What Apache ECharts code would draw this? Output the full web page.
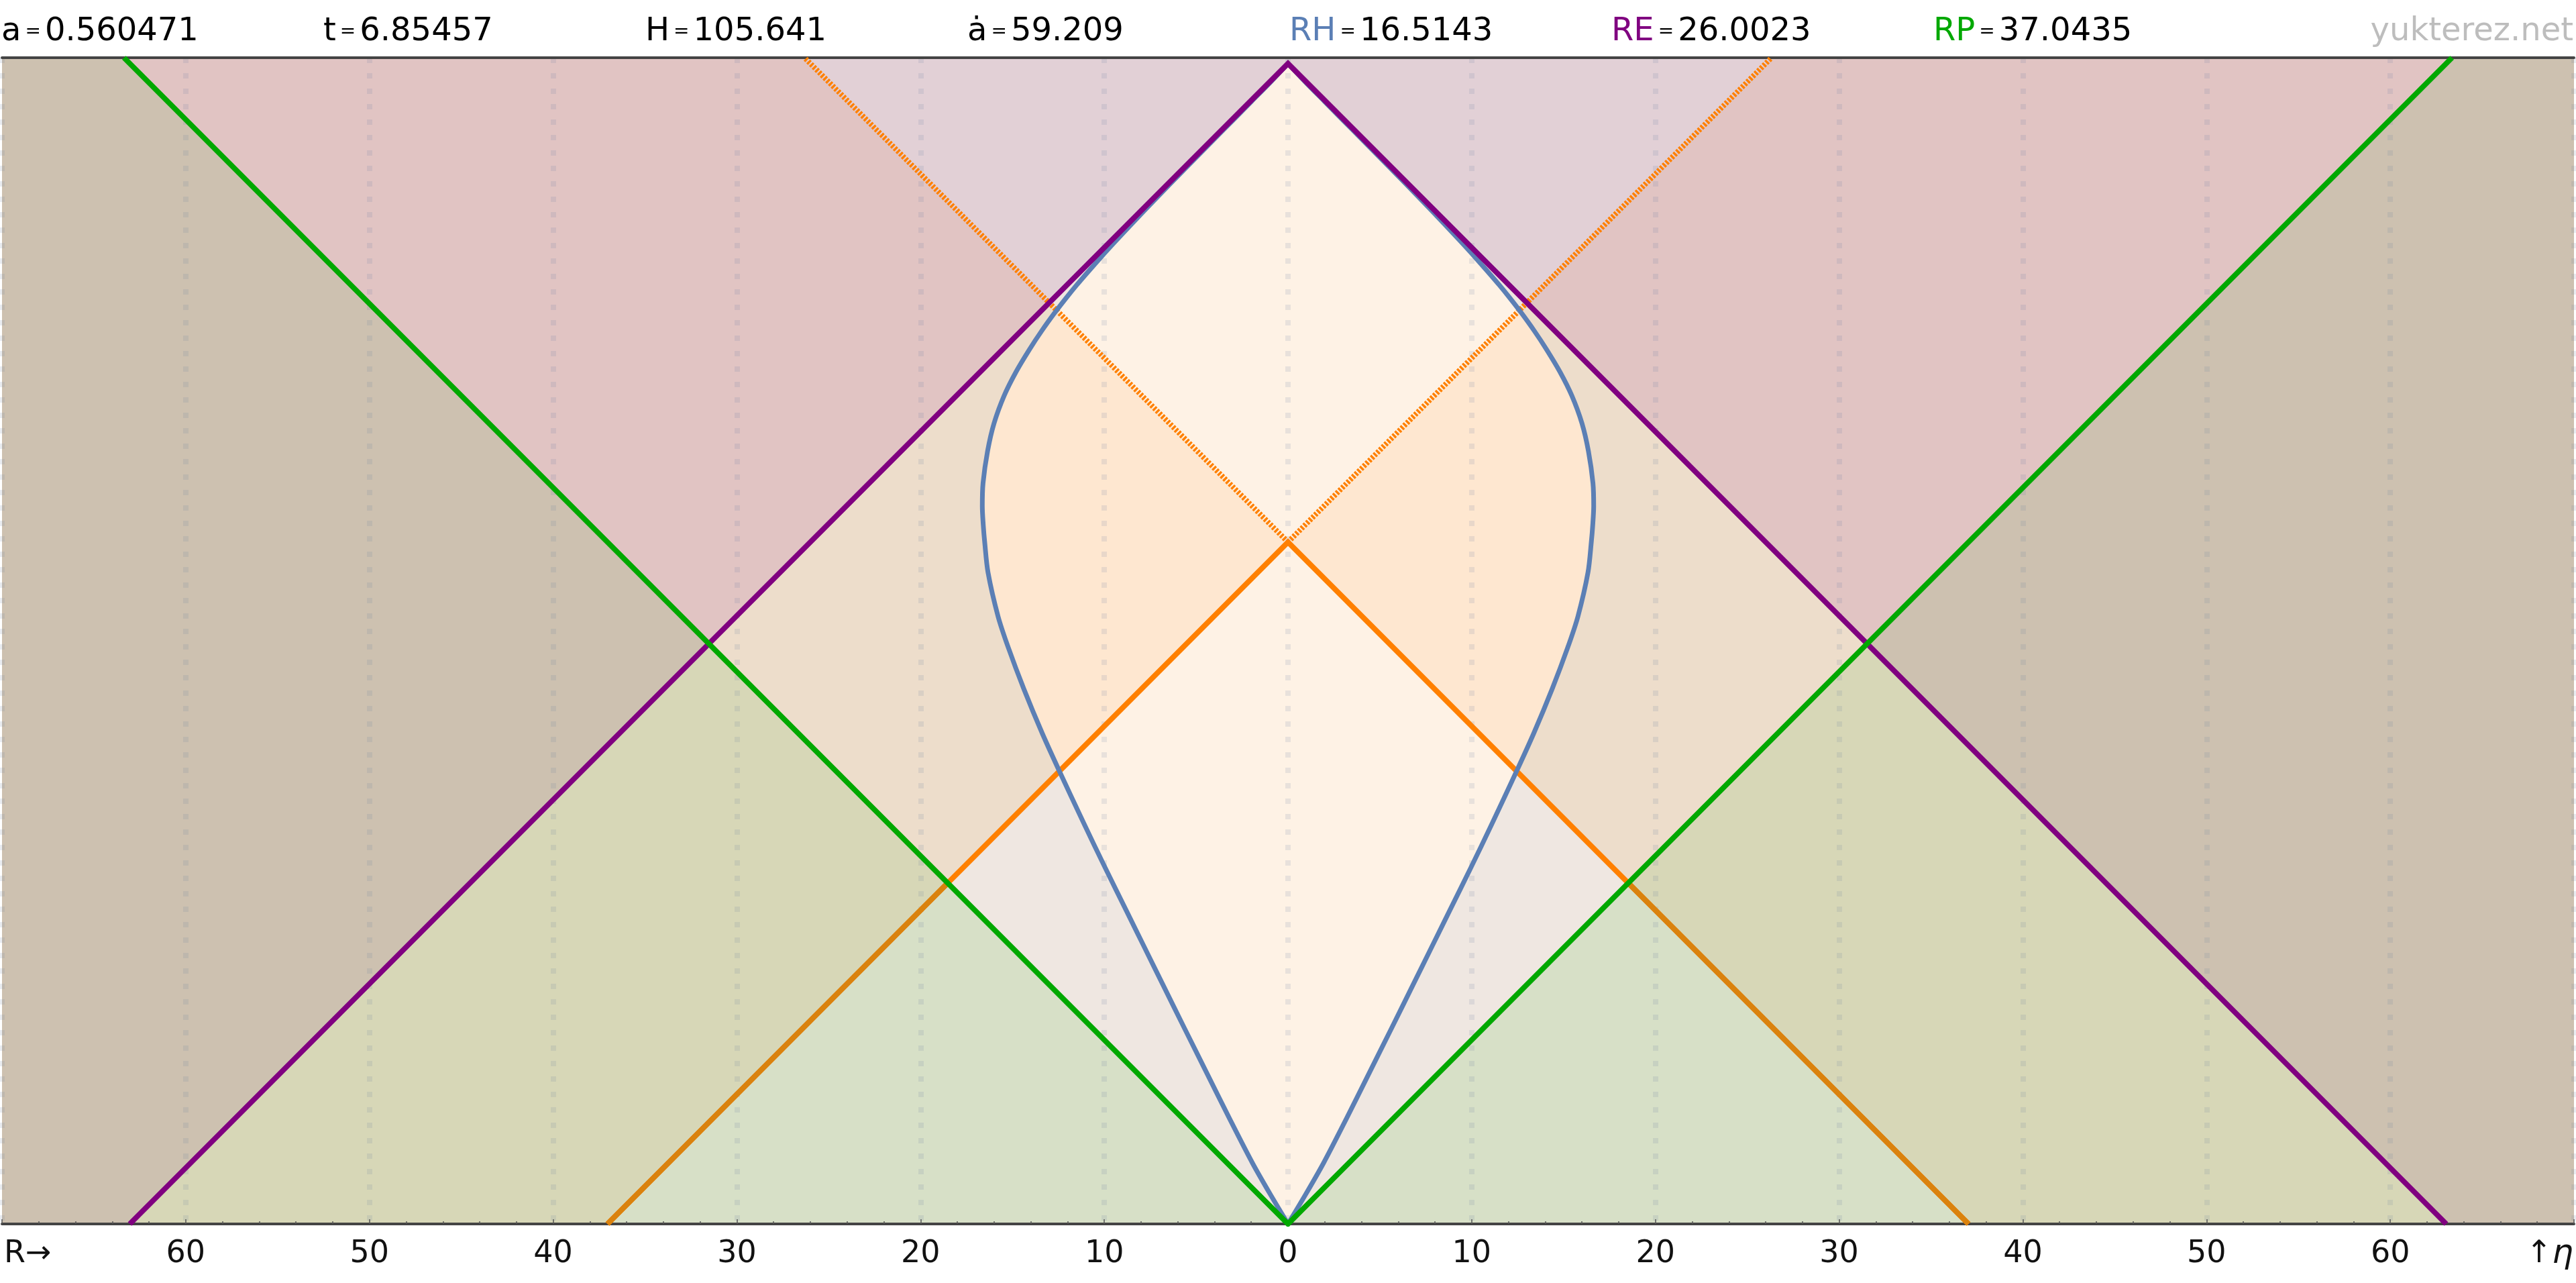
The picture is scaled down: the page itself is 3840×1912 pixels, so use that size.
<!DOCTYPE html>
<html>
<head>
<meta charset="utf-8">
<script src="https://cdn.jsdelivr.net/npm/echarts@6/dist/echarts.min.js"></script>
<style>
html,body{margin:0;padding:0;background:#ffffff;}
#c{width:3840px;height:1912px;}
</style>
</head>
<body>
<div id="c"></div>
<script>
// ---------------- data ----------------
const xMin = -70, xMax = 70, xInterval = 10;
const etaTop = 63.36;                 // top of the plotted conformal-time window
const etaNow = 37.0435;               // RP (present conformal time / particle horizon)
const eventHorizonNow = 26.0023;      // RE
const etaEnd = 63.0458;               // etaNow + RE (end of conformal time)

// header readouts
const headerLabels = ['a', 't', 'H', 'ȧ', 'RH', 'RE', 'RP'];
const headerValues = ['0.560471', '6.85457', '105.641', '59.209', '16.5143', '26.0023', '37.0435'];
const headerColors = ['#000000', '#000000', '#000000', '#000000', '#5b7fb5', '#800080', '#00a800'];

// Hubble sphere (comoving), right branch: conformal time eta and radius R
const hubbleEta = [0, 1.5, 3.3, 5.7, 8.2, 10.6, 13.0, 15.1, 16.9, 19.35, 21.8, 24.57, 26.64, 29.07, 31.3, 33.0, 35.4, 37.04, 38.0, 39.0,
                   40.24, 42.0, 43.5, 45.0, 46.3, 47.5, 48.5, 49.5, 50.3, 51.0, 51.8, 52.6, 53.3, 54.0, 55.0, 56.0, 57.0, 58.0, 59.0, 60.0, 61.0, 62.0, 63.0458];
const hubbleR   = [0, 0.9, 1.93, 3.17, 4.42, 5.62, 6.81, 7.85, 8.74, 9.95, 11.13, 12.43, 13.37, 14.38, 15.22, 15.78, 16.33, 16.51, 16.59, 16.64,
                   16.6, 16.35, 16.0, 15.45, 14.8, 14.08, 13.42, 12.7, 12.08, 11.51, 10.82, 10.11, 9.47, 8.82, 7.87, 6.9, 5.93, 4.94, 3.95, 2.96, 1.97, 0.98, 0];

// straight horizon lines [R, eta]
const particleHorizon = [[-63.36, 63.36], [0, 0], [63.36, 63.36]];
const eventHorizon    = [[-63.0458, 0], [0, 63.0458], [63.0458, 0]];
const pastLightCone   = [[-37.0435, 0], [0, 37.0435], [37.0435, 0]];
const futureConeLeft  = [[0, 37.0435], [-26.3165, 63.36]];
const futureConeRight = [[0, 37.0435], [26.3165, 63.36]];

// ---------------- derived geometry ----------------
const plotArea = [[xMin, 0], [xMax, 0], [xMax, etaTop], [xMin, etaTop]];
const particleCone = [[0, 0], [etaTop, etaTop], [-etaTop, etaTop]];
const eventCone = [[-etaEnd, 0], [etaEnd, 0], [0, etaEnd]];
const bothCones = [[0, 0], [etaEnd / 2, etaEnd / 2], [0, etaEnd], [-etaEnd / 2, etaEnd / 2]];
const pastCone = [[-etaNow, 0], [etaNow, 0], [0, etaNow]];
const pastInParticle = [[0, 0], [etaNow / 2, etaNow / 2], [0, etaNow], [-etaNow / 2, etaNow / 2]];
const futureCone = [[0, etaNow], [etaTop - etaNow, etaTop], [-(etaTop - etaNow), etaTop]];
const futureInEvent = [[0, etaNow], [(etaEnd - etaNow) / 2, (etaEnd + etaNow) / 2], [0, etaEnd], [-(etaEnd - etaNow) / 2, (etaEnd + etaNow) / 2]];
const hubbleRight = hubbleEta.map((e, i) => [hubbleR[i], e]);
const hubbleLeft = hubbleEta.map((e, i) => [-hubbleR[i], e]);
const hubblePoly = hubbleRight.concat(hubbleLeft.slice().reverse());
const pastSegOutsideL = [[-etaNow, 0], [-etaNow / 2, etaNow / 2]];
const pastSegOutsideR = [[etaNow, 0], [etaNow / 2, etaNow / 2]];

// Sutherland-Hodgman clipping of a polygon by a convex CCW polygon (data space)
function clipPolygon(subject, clip) {
  let out = subject.slice();
  for (let i = 0; i < clip.length; i++) {
    const A = clip[i], B = clip[(i + 1) % clip.length];
    const inside = p => (B[0] - A[0]) * (p[1] - A[1]) - (B[1] - A[1]) * (p[0] - A[0]) >= 0;
    const inter = (P, Q) => {
      const a1 = B[1] - A[1], b1 = A[0] - B[0], c1 = a1 * A[0] + b1 * A[1];
      const a2 = Q[1] - P[1], b2 = P[0] - Q[0], c2 = a2 * P[0] + b2 * P[1];
      const d = a1 * b2 - a2 * b1;
      return [(b2 * c1 - b1 * c2) / d, (a1 * c2 - a2 * c1) / d];
    };
    const inp = out; out = [];
    for (let j = 0; j < inp.length; j++) {
      const P = inp[j], Q = inp[(j + 1) % inp.length];
      const pi = inside(P), qi = inside(Q);
      if (pi) { out.push(P); if (!qi) out.push(inter(P, Q)); }
      else if (qi) { out.push(inter(P, Q)); }
    }
    if (!out.length) break;
  }
  return out;
}
const hubbleInPast = clipPolygon(hubblePoly, pastCone);
const hubbleInFuture = clipPolygon(hubblePoly, futureCone);

const FONT = "'DejaVu Sans', 'Liberation Sans', sans-serif";

function polygonSeries(name, polygons, fill, z) {
  return {
    type: 'custom', name: name, z: z, silent: true, animation: false, clip: true,
    coordinateSystem: 'cartesian2d',
    data: [[0, 0]],
    renderItem: function (params, api) {
      return {
        type: 'group',
        children: polygons.filter(p => p.length > 2).map(function (poly) {
          return {
            type: 'polygon',
            shape: { points: poly.map(function (p) { return api.coord(p); }) },
            style: { fill: fill, stroke: fill, lineWidth: 0.6 }
          };
        })
      };
    }
  };
}

function lineSeries(name, data, color, width, dash, z, smooth) {
  return {
    type: 'line', name: name, data: data, z: z, silent: true, animation: false,
    showSymbol: false, symbol: 'none', smooth: smooth || false, clip: true,
    lineStyle: { color: color, width: width, type: dash || 'solid', cap: 'butt', join: 'miter' }
  };
}

const header = headerLabels.map(function (l, i) {
  return {
    type: 'text', x: i * 480 + 2, y: 48, silent: true,
    style: {
      text: '{l|' + l + '}{e|=}{v|' + headerValues[i] + '}',
      align: 'left', verticalAlign: 'middle',
      rich: {
        l: { fontFamily: FONT, fontSize: 48, fill: headerColors[i] },
        e: { fontFamily: FONT, fontSize: 28, fill: '#000', padding: [0, 6, 0, 6] },
        v: { fontFamily: FONT, fontSize: 48, fill: '#000' }
      }
    }
  };
});
header.push({
  type: 'text', x: 3836, y: 48, silent: true,
  style: { text: 'yukterez.net', align: 'right', verticalAlign: 'middle', fontFamily: FONT, fontSize: 48, fill: '#bdbdbd' }
});
header.push({
  type: 'text', x: 6, y: 1869, silent: true,
  style: { text: 'R→', align: 'left', verticalAlign: 'middle', fontFamily: FONT, fontSize: 46, fill: '#111' }
});
header.push({
  type: 'text', x: 3836, y: 1869, silent: true,
  style: {
    text: '{a|↑}{b|η}', align: 'right', verticalAlign: 'middle',
    rich: {
      a: { fontFamily: FONT, fontSize: 46, fill: '#111' },
      b: { fontFamily: FONT, fontSize: 50, fontStyle: 'italic', fill: '#111' }
    }
  }
});

const chart = echarts.init(document.getElementById('c'), null, { renderer: 'canvas', width: 3840, height: 1912 });
chart.setOption({
  backgroundColor: '#ffffff',
  animation: false,
  grid: { left: 0, right: 0, top: 86, bottom: 88, containLabel: false },
  xAxis: [
    {
      type: 'value', min: xMin, max: xMax, interval: xInterval, position: 'bottom', z: 4,
      axisLine: { show: true, onZero: false, lineStyle: { color: '#444444', width: 4 } },
      axisTick: { show: true, inside: true, length: 7, lineStyle: { color: '#555555', width: 1.5 } },
      minorTick: { show: true, splitNumber: 5, length: 4, lineStyle: { color: '#555555', width: 1.5 } },
      axisLabel: {
        fontFamily: FONT, fontSize: 46, color: '#111111', margin: 22,
        formatter: function (v) { return Math.abs(v) === 70 ? '' : String(Math.abs(v)); }
      },
      splitLine: { show: true, lineStyle: { color: 'rgba(110,125,160,0.15)', width: 8, type: [8, 15] } }
    },
    {
      type: 'value', min: xMin, max: xMax, position: 'top', z: 4,
      axisLine: { show: true, onZero: false, lineStyle: { color: '#444444', width: 4 } },
      axisTick: { show: false }, axisLabel: { show: false }, splitLine: { show: false }
    }
  ],
  yAxis: { type: 'value', min: 0, max: etaTop, show: false, splitLine: { show: false } },
  graphic: header,
  series: [
    polygonSeries('outside both horizons', [plotArea], 'rgb(205,193,176)', 1),
    polygonSeries('inside particle horizon', [particleCone], 'rgb(225,196,195)', 1),
    polygonSeries('inside event horizon', [eventCone], 'rgb(215,215,183)', 1),
    polygonSeries('inside both horizons', [bothCones], 'rgb(237,221,203)', 1),
    polygonSeries('past cone', [pastCone], 'rgb(215,224,199)', 1),
    polygonSeries('past cone in particle', [pastInParticle], 'rgb(239,231,225)', 1),
    polygonSeries('future cone', [futureCone], 'rgb(226,208,214)', 1),
    polygonSeries('future cone in event', [futureInEvent], 'rgb(239,231,225)', 1),
    polygonSeries('hubble sphere', [hubblePoly], 'rgb(254,231,208)', 2),
    polygonSeries('hubble in cones', [hubbleInPast, hubbleInFuture], 'rgb(254,242,229)', 2),
    lineSeries('past cone line', pastLightCone, '#ff8000', 8, 'solid', 5),
    lineSeries('past cone line L dim', pastSegOutsideL, '#da820e', 8, 'solid', 5),
    lineSeries('past cone line R dim', pastSegOutsideR, '#da820e', 8, 'solid', 5),
    lineSeries('future cone L', futureConeLeft, '#ff8000', 8, [3.4, 2.3], 5),
    lineSeries('future cone R', futureConeRight, '#ff8000', 8, [3.4, 2.3], 5),
    lineSeries('hubble L', hubbleLeft, '#5b7fb5', 7, 'solid', 6, 0.3),
    lineSeries('hubble R', hubbleRight, '#5b7fb5', 7, 'solid', 6, 0.3),
    lineSeries('event horizon', eventHorizon, '#800080', 8, 'solid', 7),
    lineSeries('particle horizon', particleHorizon, '#00a800', 8, 'solid', 8)
  ]
});
</script>
</body>
</html>
